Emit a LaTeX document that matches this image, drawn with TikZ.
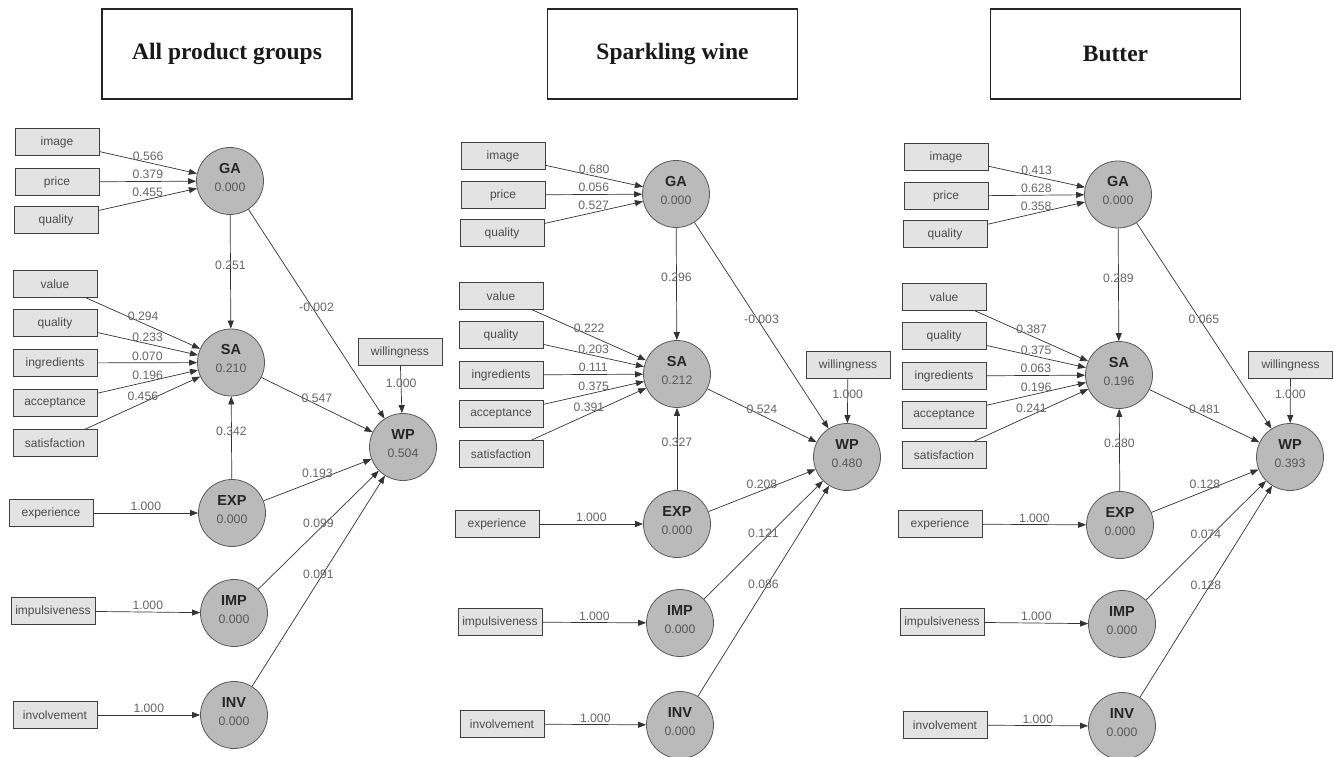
\documentclass[tikz,border=0pt]{standalone}
\usepackage{fontspec}
\setmainfont{Liberation Serif}
\newfontfamily\lsans{Liberation Sans}
\usetikzlibrary{arrows.meta}
\newcommand{\lvt}[2]{\makebox[0pt]{\raisebox{7.8pt}[0pt][0pt]{\color{black!85}\lsans\bfseries\fontsize{14.5}{16}\selectfont #1}}\makebox[0pt]{\raisebox{-10.3pt}[0pt][0pt]{\color{black!65}\lsans\fontsize{12.3}{14}\selectfont #2}}}
\newcommand{\edg}[3]{\draw[conn] (#1) -- node[lbl]{#3} (#2);}
\begin{document}
\begin{tikzpicture}[x=1pt,y=-1pt,
  mbox/.style={draw=black!75, fill=black!11, line width=0.9pt, minimum width=84pt, minimum height=27pt, inner sep=0pt, font=\lsans\fontsize{12}{13}\selectfont, text=black!70},
  lv/.style={circle, draw=black!65, fill=black!27, line width=0.8pt, minimum size=67pt, inner sep=0pt},
  conn/.style={draw=black!80, line width=0.7pt, -{Triangle[length=8pt,width=6pt]}},
  lbl/.style={midway, anchor=base, yshift=2.5pt, inner sep=0pt, font=\lsans\fontsize{12.2}{13}\selectfont, text=black!60},
  ttl/.style={draw=black!85, line width=1.1pt, minimum width=250pt, minimum height=90pt, inner sep=0pt, font=\bfseries\fontsize{23.5}{26}\selectfont, text=black!90}]
\useasboundingbox (0,0) rectangle (1334,757);
\fill[white] (0,0) rectangle (1334,757);
% titles
\node[ttl] (t1) at (227,54) {All product groups};
\node[ttl] (t2) at (672.5,54) {Sparkling wine};
\node[ttl] (t3) at (1115.5,54) {Butter};
% ---------------- panel 1
\node[mbox] (aImg) at (57,142) {image};
\node[mbox] (aPri) at (57,182) {price};
\node[mbox] (aQua) at (56,220) {quality};
\node[lv] (aGA) at (230,181) {\lvt{GA}{0.000}};
\node[mbox] (aVal) at (55,284) {value};
\node[mbox] (aQu2) at (55,323) {quality};
\node[mbox] (aIng) at (55,363) {ingredients};
\node[mbox] (aAcc) at (55,403) {acceptance};
\node[mbox] (aSat) at (55,443) {satisfaction};
\node[lv] (aSA) at (231,362.5) {\lvt{SA}{0.210}};
\node[mbox] (aWil) at (400,352) {willingness};
\node[lv] (aWP) at (403,447) {\lvt{WP}{0.504}};
\node[mbox] (aExpB) at (51,513) {experience};
\node[lv] (aEXP) at (232,513) {\lvt{EXP}{0.000}};
\node[mbox] (aImpB) at (53,611) {impulsiveness};
\node[lv] (aIMP) at (234,613) {\lvt{IMP}{0.000}};
\node[mbox] (aInvB) at (55,715) {involvement};
\node[lv] (aINV) at (234,715) {\lvt{INV}{0.000}};
\edg{aImg}{aGA}{0.566}
\edg{aPri}{aGA}{0.379}
\edg{aQua}{aGA}{0.455}
\edg{aGA}{aSA}{0.251}
\edg{aGA}{aWP}{-0.002}
\edg{aVal}{aSA}{0.294}
\edg{aQu2}{aSA}{0.233}
\edg{aIng}{aSA}{0.070}
\edg{aAcc}{aSA}{0.196}
\edg{aSat}{aSA}{0.456}
\edg{aWil}{aWP}{1.000}
\edg{aSA}{aWP}{0.547}
\edg{aEXP}{aSA}{0.342}
\edg{aEXP}{aWP}{0.193}
\edg{aIMP}{aWP}{0.099}
\edg{aINV}{aWP}{0.091}
\edg{aExpB}{aEXP}{1.000}
\edg{aImpB}{aIMP}{1.000}
\edg{aInvB}{aINV}{1.000}
% ---------------- panel 2
\node[mbox] (bImg) at (503,156) {image};
\node[mbox] (bPri) at (503,195) {price};
\node[mbox] (bQua) at (502,233) {quality};
\node[lv] (bGA) at (676,194) {\lvt{GA}{0.000}};
\node[mbox] (bVal) at (501,296) {value};
\node[mbox] (bQu2) at (501,335) {quality};
\node[mbox] (bIng) at (501,375) {ingredients};
\node[mbox] (bAcc) at (501,414) {acceptance};
\node[mbox] (bSat) at (501,454) {satisfaction};
\node[lv] (bSA) at (677,374) {\lvt{SA}{0.212}};
\node[mbox] (bWil) at (848,365) {willingness};
\node[lv] (bWP) at (847,457) {\lvt{WP}{0.480}};
\node[mbox] (bExpB) at (497,524) {experience};
\node[lv] (bEXP) at (677,524) {\lvt{EXP}{0.000}};
\node[mbox] (bImpB) at (500,622) {impulsiveness};
\node[lv] (bIMP) at (680,623) {\lvt{IMP}{0.000}};
\node[mbox] (bInvB) at (502,724) {involvement};
\node[lv] (bINV) at (680,725) {\lvt{INV}{0.000}};
\edg{bImg}{bGA}{0.680}
\edg{bPri}{bGA}{0.056}
\edg{bQua}{bGA}{0.527}
\edg{bGA}{bSA}{0.296}
\edg{bGA}{bWP}{-0.003}
\edg{bVal}{bSA}{0.222}
\edg{bQu2}{bSA}{0.203}
\edg{bIng}{bSA}{0.111}
\edg{bAcc}{bSA}{0.375}
\edg{bSat}{bSA}{0.391}
\edg{bWil}{bWP}{1.000}
\edg{bSA}{bWP}{0.524}
\edg{bEXP}{bSA}{0.327}
\edg{bEXP}{bWP}{0.208}
\edg{bIMP}{bWP}{0.121}
\edg{bINV}{bWP}{0.086}
\edg{bExpB}{bEXP}{1.000}
\edg{bImpB}{bIMP}{1.000}
\edg{bInvB}{bINV}{1.000}
% ---------------- panel 3
\node[mbox] (cImg) at (946,157) {image};
\node[mbox] (cPri) at (946,196) {price};
\node[mbox] (cQua) at (945,234) {quality};
\node[lv] (cGA) at (1118,194.5) {\lvt{GA}{0.000}};
\node[mbox] (cVal) at (944,297) {value};
\node[mbox] (cQu2) at (944,336) {quality};
\node[mbox] (cIng) at (944,376) {ingredients};
\node[mbox] (cAcc) at (944,415) {acceptance};
\node[mbox] (cSat) at (944,455) {satisfaction};
\node[lv] (cSA) at (1119,375) {\lvt{SA}{0.196}};
\node[mbox] (cWil) at (1290.5,365) {willingness};
\node[lv] (cWP) at (1290,457) {\lvt{WP}{0.393}};
\node[mbox] (cExpB) at (940,524) {experience};
\node[lv] (cEXP) at (1120,525) {\lvt{EXP}{0.000}};
\node[mbox] (cImpB) at (942,622) {impulsiveness};
\node[lv] (cIMP) at (1122,624) {\lvt{IMP}{0.000}};
\node[mbox] (cInvB) at (945,725) {involvement};
\node[lv] (cINV) at (1122,726) {\lvt{INV}{0.000}};
\edg{cImg}{cGA}{0.413}
\edg{cPri}{cGA}{0.628}
\edg{cQua}{cGA}{0.358}
\edg{cGA}{cSA}{0.289}
\edg{cGA}{cWP}{0.065}
\edg{cVal}{cSA}{0.387}
\edg{cQu2}{cSA}{0.375}
\edg{cIng}{cSA}{0.063}
\edg{cAcc}{cSA}{0.196}
\edg{cSat}{cSA}{0.241}
\edg{cWil}{cWP}{1.000}
\edg{cSA}{cWP}{0.481}
\edg{cEXP}{cSA}{0.280}
\edg{cEXP}{cWP}{0.128}
\edg{cIMP}{cWP}{0.074}
\edg{cINV}{cWP}{0.128}
\edg{cExpB}{cEXP}{1.000}
\edg{cImpB}{cIMP}{1.000}
\edg{cInvB}{cINV}{1.000}
\end{tikzpicture}
\end{document}
